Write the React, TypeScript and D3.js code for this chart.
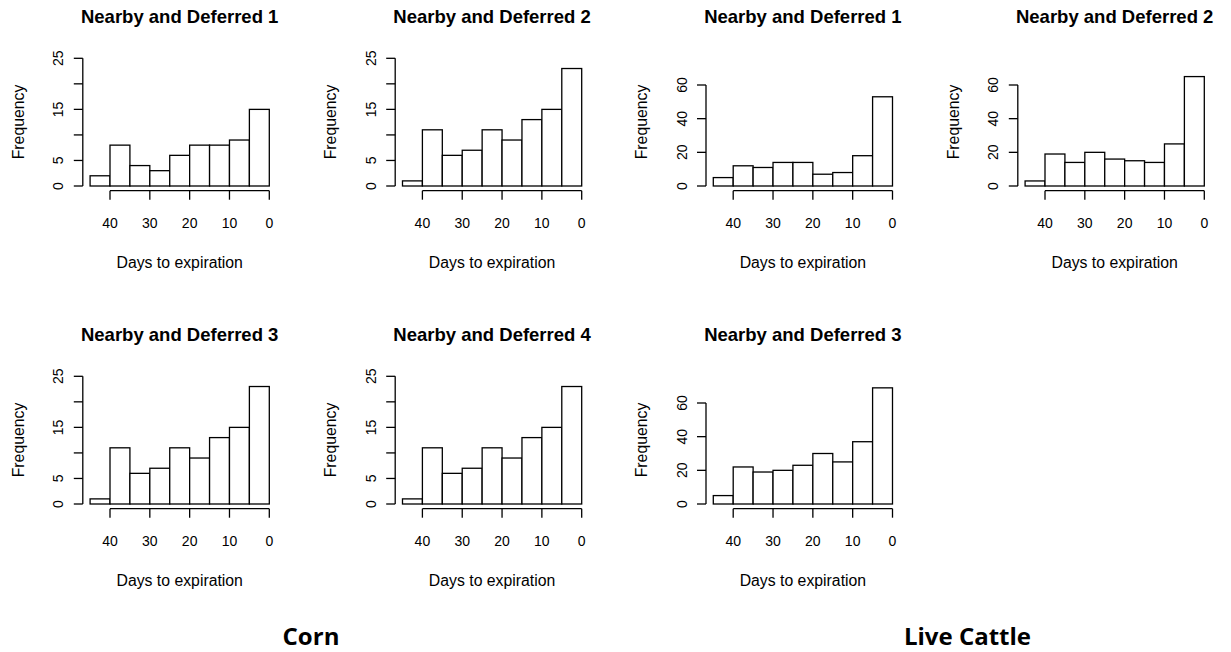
import React from "react";
import * as d3 from "d3";

// Bin edges (days to expiration), histogram drawn from 45 down to 0
const binEdges = [45, 40, 35, 30, 25, 20, 15, 10, 5, 0];
const xTicks = [40, 30, 20, 10, 0];

// Corn counts per bin (45-40, 40-35, ..., 5-0)
const cornND1 = [2, 8, 4, 3, 6, 8, 8, 9, 15];
const cornND2 = [1, 11, 6, 7, 11, 9, 13, 15, 23];
const cornND3 = [1, 11, 6, 7, 11, 9, 13, 15, 23];
const cornND4 = [1, 11, 6, 7, 11, 9, 13, 15, 23];

// Live cattle counts per bin
const cattleND1 = [5, 12, 11, 14, 14, 7, 8, 18, 53];
const cattleND2 = [3, 19, 14, 20, 16, 15, 14, 25, 65];
const cattleND3 = [5, 22, 19, 20, 23, 30, 25, 37, 69];

// y-axis ticks and their labels
const cornYTicks = [0, 5, 10, 15, 20, 25];
const cornYLabels = ["0", "5", "", "15", "", "25"];
const cattleYTicks = [0, 20, 40, 60];
const cattleYLabels = ["0", "20", "40", "60"];

const titles = ["Nearby and Deferred 1", "Nearby and Deferred 2", "Nearby and Deferred 3", "Nearby and Deferred 4"];
const groupLabels = ["Corn", "Live Cattle"];

type PanelSpec = {
  title: string;
  counts: number[];
  kind: "corn" | "cattle";
  row: number;
  col: number;
};

const panels: PanelSpec[] = [
  { title: titles[0], counts: cornND1, kind: "corn", row: 0, col: 0 },
  { title: titles[1], counts: cornND2, kind: "corn", row: 0, col: 1 },
  { title: titles[0], counts: cattleND1, kind: "cattle", row: 0, col: 2 },
  { title: titles[1], counts: cattleND2, kind: "cattle", row: 0, col: 3 },
  { title: titles[2], counts: cornND3, kind: "corn", row: 1, col: 0 },
  { title: titles[3], counts: cornND4, kind: "corn", row: 1, col: 1 },
  { title: titles[2], counts: cattleND3, kind: "cattle", row: 1, col: 2 },
];

const W = 1231;
const H = 652;
const colX = [0, 312.4, 623.2, 935];
const rowY = [0, 318];

const FONT = "'Liberation Sans', Arial, Helvetica, sans-serif";

function Panel({ p }: { p: PanelSpec }) {
  const ox = colX[p.col];
  const oy = rowY[p.row];
  // x scale: 40 -> 110, 0 -> 269.3
  const x = d3.scaleLinear().domain([40, 0]).range([110, 269.3]);
  const yTop = p.kind === "corn" ? 25 : 60;
  const y = d3.scaleLinear().domain([0, yTop]).range([186, p.kind === "corn" ? 58.3 : 85]);
  const yTicks = p.kind === "corn" ? cornYTicks : cattleYTicks;
  const yLabels = p.kind === "corn" ? cornYLabels : cattleYLabels;
  const usrLeft = x(46.8);
  const usrRight = x(-1.8);
  const cx = (usrLeft + usrRight) / 2;
  const axisX = 82.8;
  const axisY = 190.7;
  const tick = 9;
  const lw = 1.3;
  return (
    <g transform={`translate(${ox},${oy})`}>
      <text x={cx} y={22.7} textAnchor="middle" fontFamily={FONT} fontWeight="bold" fontSize={18.5} fill="#000">
        {p.title}
      </text>
      {p.counts.map((c, i) => (
        <rect
          key={i}
          x={x(binEdges[i])}
          y={y(c)}
          width={x(binEdges[i + 1]) - x(binEdges[i])}
          height={y(0) - y(c)}
          fill="#fff"
          stroke="#000"
          strokeWidth={lw}
        />
      ))}
      {/* y axis */}
      <line x1={axisX} x2={axisX} y1={y(yTicks[0])} y2={y(yTicks[yTicks.length - 1])} stroke="#000" strokeWidth={lw} />
      {yTicks.map((t, i) => (
        <g key={t}>
          <line x1={axisX - tick} x2={axisX} y1={y(t)} y2={y(t)} stroke="#000" strokeWidth={lw} />
          {yLabels[i] && (
            <text
              transform={`translate(${63.3},${y(t)}) rotate(-90)`}
              textAnchor="middle"
              fontFamily={FONT}
              fontSize={14}
              fill="#000"
            >
              {yLabels[i]}
            </text>
          )}
        </g>
      ))}
      {/* x axis */}
      <line x1={x(xTicks[0])} x2={x(xTicks[xTicks.length - 1])} y1={axisY} y2={axisY} stroke="#000" strokeWidth={lw} />
      {xTicks.map((t) => (
        <g key={t}>
          <line x1={x(t)} x2={x(t)} y1={axisY} y2={axisY + tick} stroke="#000" strokeWidth={lw} />
          <text x={x(t)} y={228.3} textAnchor="middle" fontFamily={FONT} fontSize={14} fill="#000">
            {t}
          </text>
        </g>
      ))}
      <text x={cx} y={268.3} textAnchor="middle" fontFamily={FONT} fontSize={15.8} fill="#000">
        Days to expiration
      </text>
      <text
        transform={`translate(${24},${122}) rotate(-90)`}
        textAnchor="middle"
        fontFamily={FONT}
        fontSize={15.8}
        fill="#000"
      >
        Frequency
      </text>
    </g>
  );
}

export default function App() {
  return (
    <svg
      width={W}
      height={H}
      viewBox={`0 0 ${W} ${H}`}
      style={{ position: "absolute", left: 0, top: 0, display: "block", background: "#fff" }}
    >
      <rect width={W} height={H} fill="#fff" />
      {panels.map((p, i) => (
        <Panel key={i} p={p} />
      ))}
      <text x={311} y={645} textAnchor="middle" fontFamily="'Open Sans', sans-serif" fontWeight="bold" fontSize={24} fill="#000">
        {groupLabels[0]}
      </text>
      <text x={967.5} y={645} textAnchor="middle" fontFamily="'Open Sans', sans-serif" fontWeight="bold" fontSize={24} fill="#000">
        {groupLabels[1]}
      </text>
    </svg>
  );
}
